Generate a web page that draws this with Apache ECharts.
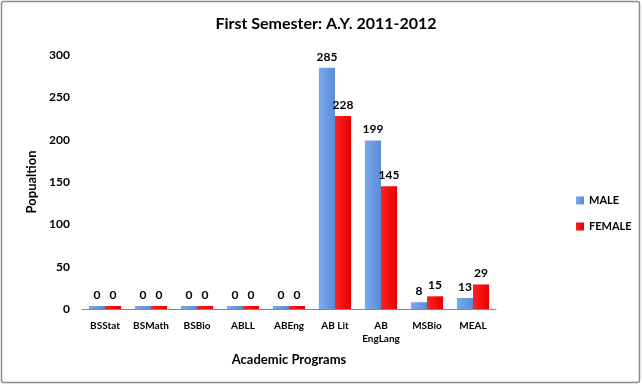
<!DOCTYPE html>
<html><head><meta charset="utf-8">
<script src="https://cdn.jsdelivr.net/npm/echarts@6/dist/echarts.min.js"></script>
<style>html,body{margin:0;padding:0;background:#fff}#c{width:642px;height:386px}</style>
</head><body><div id="c"></div>
<script>
const categories = ['BSStat','BSMath','BSBio','ABLL','ABEng','AB Lit','AB\nEngLang','MSBio','MEAL'];
const male = [0,0,0,0,0,285,199,8,13];
const female = [0,0,0,0,0,228,145,15,29];
const yTicks = [0,50,100,150,200,250,300];

const chart = echarts.init(document.getElementById('c'));
const F = 'Lato, "Open Sans", sans-serif';
chart.setOption({
  animation:false,
  backgroundColor:'#fff',
  graphic:[{type:'rect',shape:{x:1.5,y:1.5,width:638,height:381,r:2},style:{fill:'none',stroke:'#8c8c8c',lineWidth:1.5}}],
  title:{text:'First Semester: A.Y. 2011-2012',left:321,top:11,textAlign:'center',
    textStyle:{fontFamily:F,fontSize:16,fontWeight:'bold',color:'#000'}},
  legend:{orient:'vertical',left:571,top:190,itemWidth:8,itemHeight:8,itemGap:15,
    textStyle:{fontFamily:F,fontSize:11,fontWeight:'bold',color:'#000'},
    data:[{name:'MALE',icon:'rect'},{name:'FEMALE',icon:'rect'}]},
  grid:{left:82,right:146,top:55,bottom:77},
  xAxis:{type:'category',data:categories,
    axisLine:{show:true,lineStyle:{color:'#888'}},axisTick:{show:false},
    axisLabel:{fontFamily:F,fontSize:10,fontWeight:'bold',color:'#000',margin:10,interval:0,lineHeight:13},
    name:'Academic Programs',nameLocation:'middle',nameGap:44,
    nameTextStyle:{fontFamily:F,fontSize:13,fontWeight:'bold',color:'#000'}},
  yAxis:{type:'value',min:yTicks[0],max:yTicks[yTicks.length-1],interval:50,
    axisLine:{show:false},axisTick:{show:false},splitLine:{show:false},
    axisLabel:{fontFamily:F,fontSize:12,fontWeight:'bold',color:'#000',margin:12},
    name:'Popualtion',nameLocation:'middle',nameGap:36,nameRotate:90,
    nameTextStyle:{fontFamily:F,fontSize:13,fontWeight:'bold',color:'#000'}},
  series:[
    {name:'MALE',type:'bar',data:male,barGap:'0%',barCategoryGap:'30%',barMinHeight:3,
      itemStyle:{color:new echarts.graphic.LinearGradient(0,0,1,0,[{offset:0,color:'#7aa9ec'},{offset:1,color:'#5a8bd6'}])},
      label:{show:true,position:'top',fontFamily:F,fontSize:12,fontWeight:'bold',color:'#000'}},
    {name:'FEMALE',type:'bar',data:female,barMinHeight:3,
      itemStyle:{color:new echarts.graphic.LinearGradient(0,0,1,0,[{offset:0,color:'#ff2020'},{offset:1,color:'#e80000'}])},
      label:{show:true,position:'top',fontFamily:F,fontSize:12,fontWeight:'bold',color:'#000'}}
  ]
});
</script></body></html>
